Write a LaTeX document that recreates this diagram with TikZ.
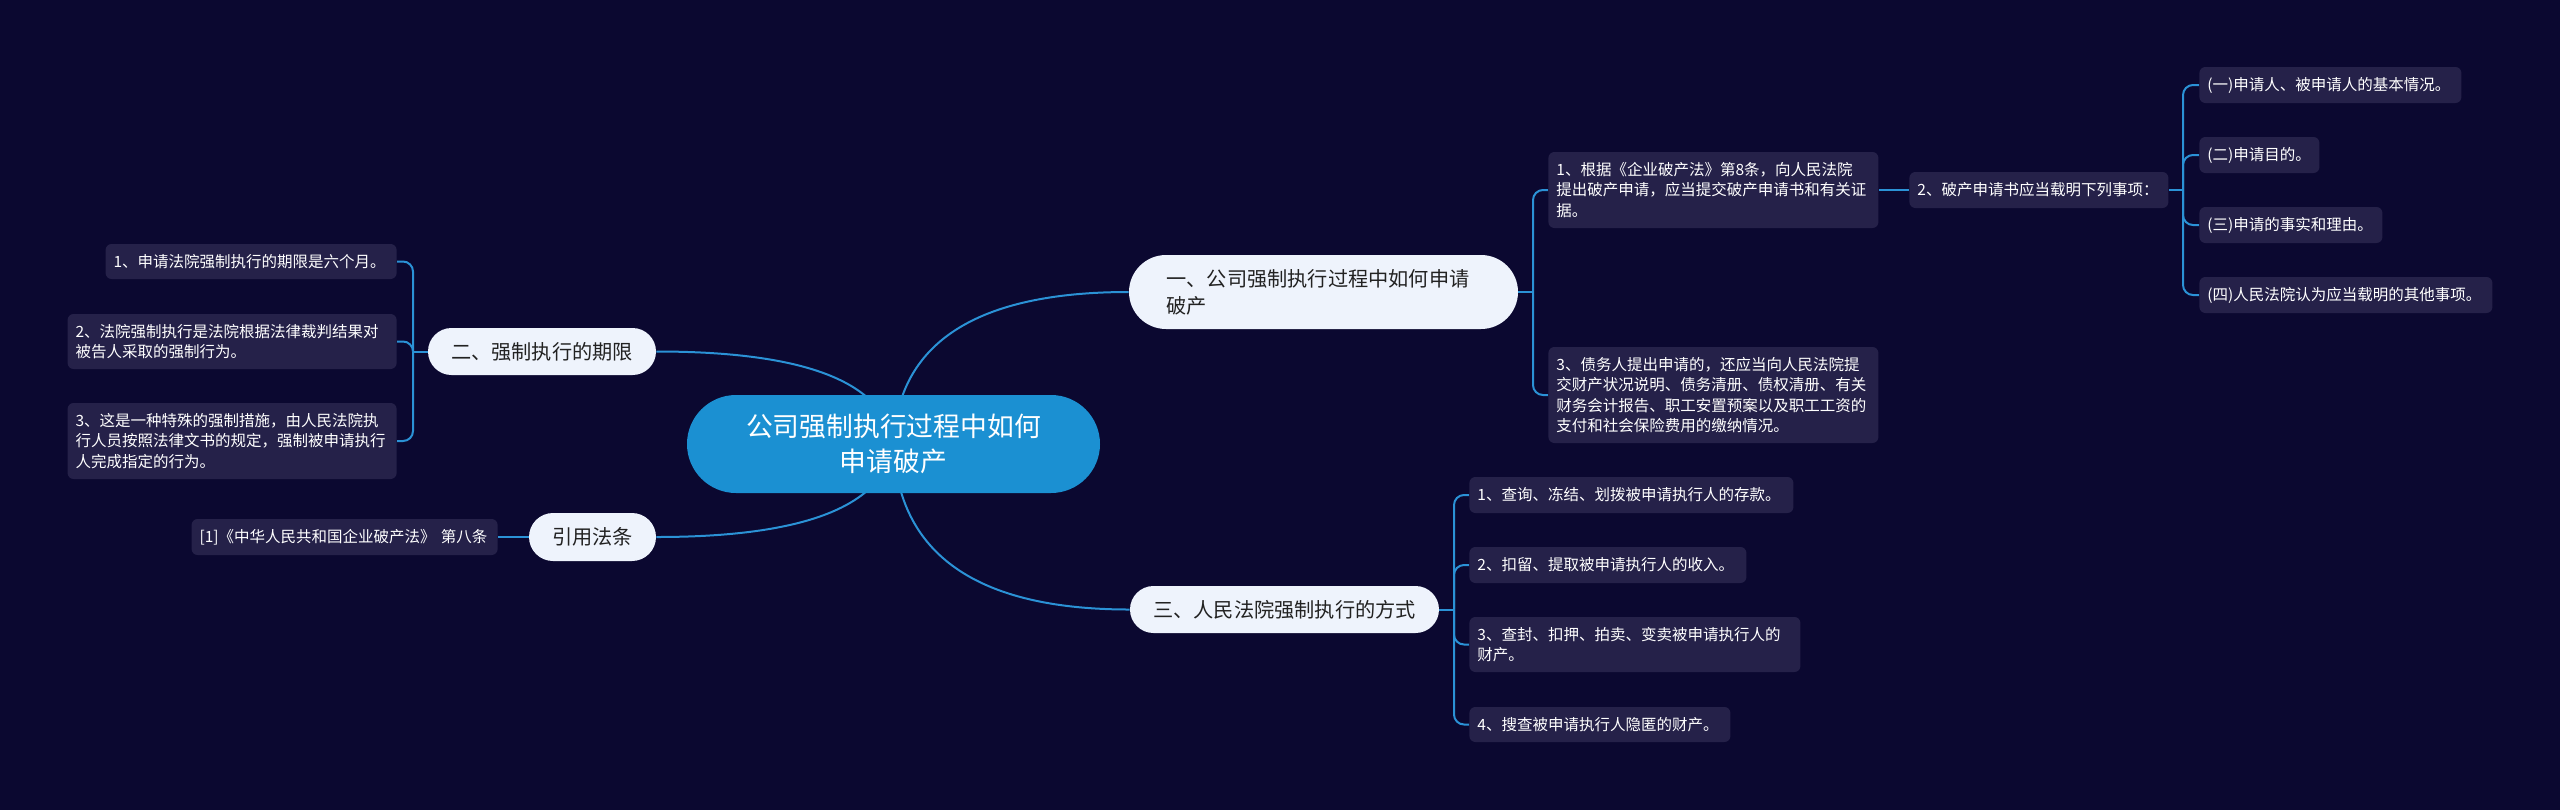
\documentclass[tikz,border=0pt]{standalone}
\usepackage{fontspec}
\setmainfont{Noto Sans CJK SC}
\definecolor{bgc}{HTML}{0B0830}
\definecolor{leafc}{HTML}{252149}
\definecolor{brc}{HTML}{EEF3FC}
\definecolor{ctrc}{HTML}{1B90D2}
\definecolor{linec}{HTML}{2B92D6}
\definecolor{brtext}{HTML}{222222}
\pgfdeclarelayer{back}
\pgfdeclarelayer{edges}
\pgfsetlayers{back,edges,main}
\tikzset{
  leaf/.style={fill=leafc, rounded corners=3pt, text=white, inner xsep=4pt, inner ysep=0pt,
    align=left, font=\fontsize{7.75pt}{10.3pt}\selectfont},
  branch/.style={fill=brc, text=brtext, inner xsep=2pt, inner ysep=0pt,
    font=\fontsize{10.1pt}{13.5pt}\selectfont},
  centre/.style={fill=ctrc, text=white, inner sep=0pt, align=center,
    minimum width=206.5pt, minimum height=49pt, rounded corners=24.5pt,
    font=\fontsize{13.4pt}{17.5pt}\selectfont},
  conn/.style={draw=linec, line width=1pt},
  fan/.style={conn, rounded corners=5pt},
}
\begin{document}
\begin{tikzpicture}[x=0.5pt,y=-0.5pt]
\begin{pgfonlayer}{back}
\fill[bgc] (0,0) rectangle (2560,810);
\end{pgfonlayer}
\useasboundingbox (0,0) rectangle (2560,810);

% centre
\node[centre] (ctr) at (893.5,444) {公司强制执行过程中如何\\申请破产};

% branches
\node[branch, minimum width=194.5pt, minimum height=37pt, rounded corners=18.5pt,
      text width=157pt, align=left] (b1) at (1323.5,292) {一、公司强制执行过程中如何申请\\破产};
\node[branch, minimum width=114pt, minimum height=23.5pt, rounded corners=11.75pt] (b2) at (542,351.5) {二、强制执行的期限};
\node[branch, minimum width=154.5pt, minimum height=23.5pt, rounded corners=11.75pt] (b3) at (1284.5,609.5) {三、人民法院强制执行的方式};
\node[branch, minimum width=63.5pt, minimum height=24pt, rounded corners=12pt] (b4) at (592.5,537) {引用法条};

% left leaves
\node[leaf, anchor=east, text width=137.5pt, minimum height=17.5pt] (A1) at (397,261.5) {1、申请法院强制执行的期限是六个月。};
\node[leaf, anchor=east, text width=156.5pt, minimum height=27.5pt] (A2) at (397,341.5) {2、法院强制执行是法院根据法律裁判结果对\\被告人采取的强制行为。};
\node[leaf, anchor=east, text width=156.5pt, minimum height=38pt] (A3) at (397,441) {3、这是一种特殊的强制措施，由人民法院执\\行人员按照法律文书的规定，强制被申请执行\\人完成指定的行为。};
\node[leaf, anchor=east, text width=145pt, minimum height=18pt] (R) at (498,537) {[1]《中华人民共和国企业破产法》 第八条};

% right leaves (branch 1)
\node[leaf, anchor=west, text width=157pt, minimum height=38pt] (B1) at (1548,190) {1、根据《企业破产法》第8条，向人民法院\\提出破产申请，应当提交破产申请书和有关证\\据。};
\node[leaf, anchor=west, text width=121.5pt, minimum height=18pt] (B2) at (1909,190) {2、破产申请书应当载明下列事项：};
\node[leaf, anchor=west, text width=157pt, minimum height=48pt] (B3) at (1548,395) {3、债务人提出申请的，还应当向人民法院提\\交财产状况说明、债务清册、债权清册、有关\\财务会计报告、职工安置预案以及职工工资的\\支付和社会保险费用的缴纳情况。};

\node[leaf, anchor=west, text width=123pt, minimum height=18pt] (C1) at (2199,85) {(一)申请人、被申请人的基本情况。};
\node[leaf, anchor=west, text width=52pt, minimum height=18pt] (C2) at (2199,155) {(二)申请目的。};
\node[leaf, anchor=west, text width=83.5pt, minimum height=18pt] (C3) at (2199,225) {(三)申请的事实和理由。};
\node[leaf, anchor=west, text width=138.5pt, minimum height=18pt] (C4) at (2199,295) {(四)人民法院认为应当载明的其他事项。};

% right leaves (branch 3)
\node[leaf, anchor=west, text width=154pt, minimum height=18pt] (D1) at (1469,495) {1、查询、冻结、划拨被申请执行人的存款。};
\node[leaf, anchor=west, text width=130.5pt, minimum height=18pt] (D2) at (1469,565) {2、扣留、提取被申请执行人的收入。};
\node[leaf, anchor=west, text width=157.5pt, minimum height=27.5pt] (D3) at (1469,644.5) {3、查封、扣押、拍卖、变卖被申请执行人的\\财产。};
\node[leaf, anchor=west, text width=122.5pt, minimum height=17.5pt] (D4) at (1469,724.5) {4、搜查被申请执行人隐匿的财产。};

% junctions
\coordinate (j1) at (1533,292);
\coordinate (j2) at (2183,190);
\coordinate (j3) at (413,351.5);
\coordinate (j4) at (1454,609.5);

\begin{pgfonlayer}{edges}
\draw[conn] (ctr.center) .. controls (897.7,342.7) and (976.3,292) .. (b1.west);
\draw[conn] (ctr.center) .. controls (884.3,382) and (805.3,351.5) .. (b2.east);
\draw[conn] (ctr.center) .. controls (884.3,506) and (805.3,537) .. (b4.east);
\draw[conn] (ctr.center) .. controls (897.7,554.3) and (976.7,609.5) .. (b3.west);

\draw[conn] (b1.east) -- (j1);
\draw[fan] (j1) |- (B1.west);
\draw[fan] (j1) |- (B3.west);
\draw[conn] (B1.east) -- (B2.west);
\draw[conn] (B2.east) -- (j2);
\foreach \n in {C1,C2,C3,C4} { \draw[fan] (j2) |- (\n.west); }

\draw[conn] (b2.west) -- (j3);
\foreach \n in {A1,A2,A3} { \draw[fan] (j3) |- (\n.east); }
\draw[conn] (b4.west) -- (R.east);

\draw[conn] (b3.east) -- (j4);
\foreach \n in {D1,D2,D3,D4} { \draw[fan] (j4) |- (\n.west); }
\end{pgfonlayer}
\end{tikzpicture}
\end{document}
